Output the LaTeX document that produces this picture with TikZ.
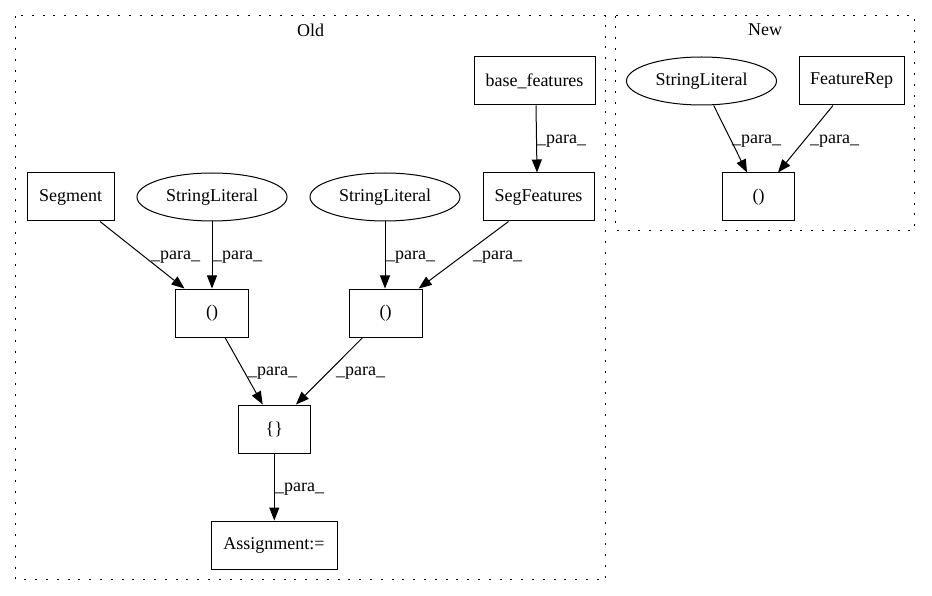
\documentclass[tikz,border=0pt]{standalone}
\usepackage{fontspec}
\setmainfont{Liberation Serif}
\usetikzlibrary{arrows.meta,shapes.geometric}
\begin{document}
\begin{tikzpicture}[x=1pt,y=-1pt,
  every node/.style={font=\fontsize{18}{21}\selectfont},
  box/.style={draw,line width=1pt,rectangle,minimum height=48pt,inner sep=0pt},
  oval/.style={draw,line width=1pt,ellipse,minimum width=150pt,minimum height=48pt,inner sep=0pt},
  cluster/.style={draw,line width=1pt,dash pattern=on 2pt off 8.8pt},
  conn/.style={line width=1pt,-{Triangle[length=13pt,width=10pt]}},
  lbl/.style={anchor=west,inner sep=0pt}]
\useasboundingbox (0,0) rectangle (932,596);
% clusters
\draw[cluster] (15.7,15.7) rectangle (605.7,579.5);
\draw[cluster] (615.7,15.7) rectangle (914.7,230.7);
\node (oldlbl) at (310.7,30) {Old};
\node (newlbl) at (765.2,30) {New};
% Old nodes
\node[box,minimum width=121pt] (base) at (534.5,81) {base\_features};
\node[box,minimum width=111pt] (segf) at (538.5,197) {SegFeatures};
\node[box,minimum width=87pt] (seg) at (70.5,197) {Segment};
\node[oval] (sl1) at (212,197) {StringLiteral};
\node[oval] (sl2) at (385,197) {StringLiteral};
\node[box,minimum width=72.6pt] (p1) at (212,313) {()};
\node[box,minimum width=72.6pt] (p2) at (385.7,313) {()};
\node[box,minimum width=72.6pt] (br) at (274.3,429) {\{\}};
\node[box,minimum width=126pt] (asg) at (274,545) {Assignment:=};
% New nodes
\node[oval] (sl3) at (701.5,81) {StringLiteral};
\node[box,minimum width=105pt] (frep) at (851.7,81) {FeatureRep};
\node[box,minimum width=71.6pt] (p3) at (758.5,197) {()};
% edges
\draw[conn] ([xshift=1.5pt]base.south) -- ([xshift=-1.5pt]segf.north);
\draw[conn] ([xshift=29.5pt]seg.south) -- ([xshift=-27.5pt]p1.north);
\draw[conn] (sl1.south) -- (p1.north);
\draw[conn] (sl2.south) -- ([xshift=-0.7pt]p2.north);
\draw[conn] ([xshift=-30pt]segf.south) -- ([xshift=33pt]p2.north);
\draw[conn] ([xshift=13pt]p1.south) -- ([xshift=-11.6pt]br.north);
\draw[conn] ([xshift=-23pt]p2.south) -- ([xshift=21.7pt]br.north);
\draw[conn] (br.south) -- ([xshift=0.3pt]asg.north);
\draw[conn] ([xshift=12.2pt]sl3.south) -- ([xshift=-11.5pt]p3.north);
\draw[conn] ([xshift=-18.7pt]frep.south) -- ([xshift=19.5pt]p3.north);
% edge labels
\node[lbl] (l1) at (537,141) {\_para\_};
\node[lbl] (l2) at (151,257) {\_para\_};
\node[lbl] (l3) at (213,257) {\_para\_};
\node[lbl] (l4) at (386,257) {\_para\_};
\node[lbl] (l5) at (473,257) {\_para\_};
\node[lbl] (l6) at (248,373) {\_para\_};
\node[lbl] (l7) at (336,373) {\_para\_};
\node[lbl] (l8) at (275,489) {\_para\_};
\node[lbl] (l9) at (732,141) {\_para\_};
\node[lbl] (l10) at (810,141) {\_para\_};
\end{tikzpicture}
\end{document}
